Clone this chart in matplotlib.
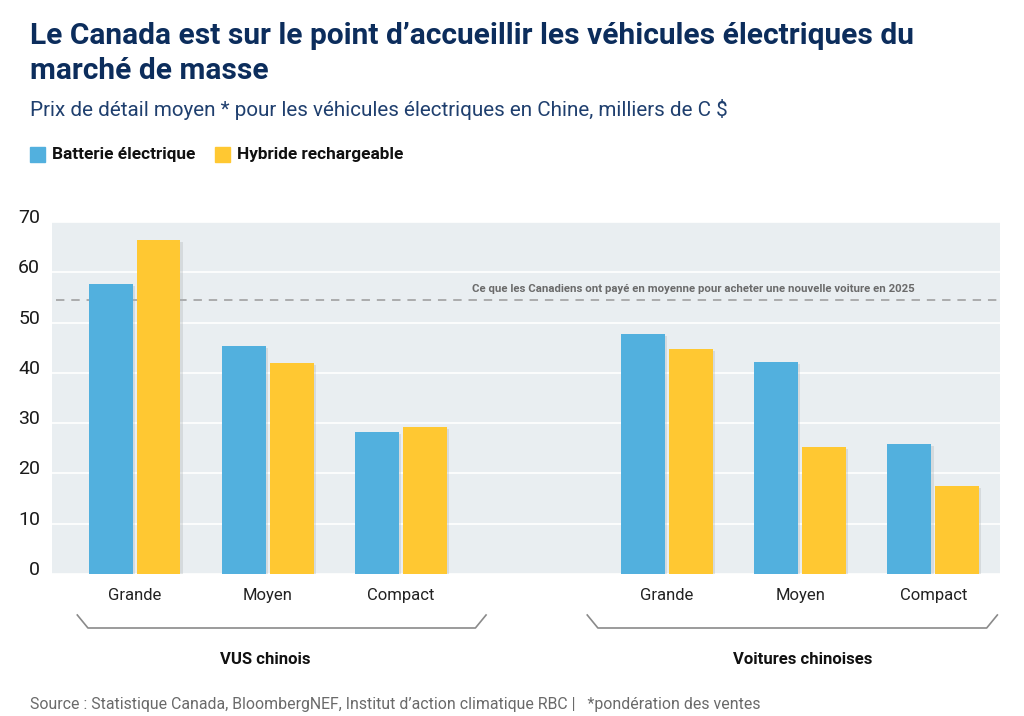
import matplotlib
matplotlib.use("Agg")
import matplotlib.pyplot as plt
import matplotlib.transforms as mtransforms
import matplotlib.patheffects as pe
import numpy as np

# ---- data ----
categories = ["Grande", "Moyen", "Compact", "Grande", "Moyen", "Compact"]
positions = [0, 1, 2, 4, 5, 6]
groups = ["VUS chinois", "Voitures chinoises"]
bev = [57.6, 45.4, 28.2, 47.7, 42.2, 25.8]
phev = [66.4, 41.9, 29.2, 44.8, 25.3, 17.5]
series_names = ["Batterie électrique", "Hybride rechargeable"]
reference_value = 54.4
reference_label = "Ce que les Canadiens ont payé en moyenne pour acheter une nouvelle voiture en 2025"
yticks = [0, 10, 20, 30, 40, 50, 60, 70]

title = "Le Canada est sur le point d\u2019accueillir les véhicules électriques du\nmarché de masse"
subtitle = "Prix de détail moyen * pour les véhicules électriques en Chine, milliers de C $"
source = "Source : Statistique Canada, BloombergNEF, Institut d\u2019action climatique RBC |   *pondération des ventes"

BLUE = "#52B0DE"
YELLOW = "#FFC832"
NAVY = "#0C2D5C"
FONT = ["Roboto", "DejaVu Sans"]
plt.rcParams["font.family"] = FONT

W, H = 1024, 716
fig = plt.figure(figsize=(W / 100, H / 100), dpi=100)
ax = fig.add_axes([52 / W, 1 - 574 / H, (1000 - 52) / W, (574 - 222) / H])
ax.set_facecolor("#E9EEF1")

bw = 0.33
gap = 0.03
x = np.array(positions, dtype=float)
shadow = [pe.SimplePatchShadow(offset=(1.5, -1.5), shadow_rgbFace="#a8aeb2", alpha=0.3), pe.Normal()]
b1 = ax.bar(x - bw / 2 - gap / 2, bev, width=bw, color=BLUE, zorder=3, path_effects=shadow)
b2 = ax.bar(x + bw / 2 + gap / 2, phev, width=bw, color=YELLOW, zorder=3, path_effects=shadow)

ax.set_xlim(-0.62, 6.5)
ax.set_ylim(0, 70)
ax.set_yticks(yticks)
ax.set_yticklabels([str(v) for v in yticks], fontsize=14, color="#1a1a1a")
ax.tick_params(axis="y", length=0, pad=8.5)
offset = mtransforms.ScaledTranslation(0, 6 / 100, fig.dpi_scale_trans)
for lab in ax.get_yticklabels():
    lab.set_transform(lab.get_transform() + offset)
ax.set_xticks(x)
ax.set_xticklabels(categories, fontsize=12, color="#222222")
ax.tick_params(axis="x", length=0, pad=10)
ax.grid(axis="y", color="white", linewidth=1.2, zorder=0)
ax.set_axisbelow(True)
for s in ax.spines.values():
    s.set_visible(False)

# reference line
ax.axhline(reference_value, color="#9a9a9a", linestyle=(0, (5.5, 4.5)), linewidth=1.1, zorder=2,
           xmin=0.004, xmax=1)
ax.text(5.857, reference_value + 1.2, reference_label, ha="right", va="bottom", fontsize=8.2,
        color="#6a6a6a", fontweight="bold")

# brackets
trans = mtransforms.blended_transform_factory(ax.transData, fig.transFigure)
y_top = 1 - 615 / H
y_bot = 1 - 628 / H
brackets = [(-0.43, -0.35, 2.56, 2.64), (3.40, 3.48, 6.40, 6.48)]
for (a, b, c, d) in brackets:
    fig.add_artist(plt.Line2D([a, b, c, d], [y_top, y_bot, y_bot, y_top], transform=trans,
                              color="#8a8a8a", linewidth=1.2))
group_centers = [0.98, 5.02]
for gc, g in zip(group_centers, groups):
    t = fig.text(gc, 1 - 660 / H, g, transform=trans, ha="center", va="center",
                 fontsize=12, fontweight="bold", color="#111111")

# titles
fig.text(30 / W, 1 - 22 / H, title, ha="left", va="top", fontsize=21.5, fontweight="bold",
         color=NAVY, linespacing=1.32)
fig.text(30 / W, 1 - 110 / H, subtitle, ha="left", va="center", fontsize=14.9, color="#1F3F6E")

# legend
for name, col, tx in [(series_names[0], BLUE, 30), (series_names[1], YELLOW, 215)]:
    fig.patches.append(plt.Rectangle((tx / W, 1 - 162 / H), 15 / W, 15 / H, transform=fig.transFigure,
                                     color=col))
    fig.text((tx + 22) / W, 1 - 154.5 / H, name, ha="left", va="center", fontsize=12.4,
             fontweight="bold", color="#111111")

fig.text(30 / W, 1 - 704 / H, source, ha="left", va="center", fontsize=11.4, color="#6a6a6a")

fig.savefig("out.png", dpi=100, facecolor="white")
